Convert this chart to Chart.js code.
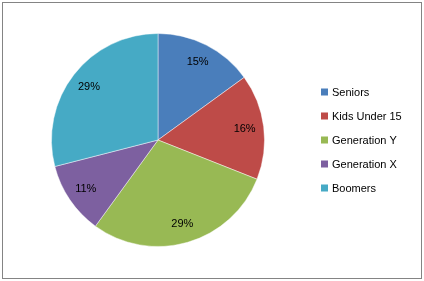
<!DOCTYPE html>
<html><head><meta charset="utf-8">
<script src="https://cdn.jsdelivr.net/npm/chart.js@4.4.0/dist/chart.umd.min.js"></script>
<style>html,body{margin:0;padding:0;background:#fff}#wrap{width:424px;height:281px}</style>
</head><body><div id="wrap"><canvas id="c" width="424" height="281"></canvas></div>
<script>
const categories = ["Seniors", "Kids Under 15", "Generation Y", "Generation X", "Boomers"];
const values = [15, 16, 29, 11, 29];
const colors = ["#4A7EBB", "#BE4B48", "#98B954", "#7D60A0", "#46AAC5"];

const FONT = "'Liberation Sans', Arial, sans-serif";

const framePlugin = {
  id: 'frame',
  beforeDraw(chart) {
    const ctx = chart.ctx;
    ctx.save();
    ctx.fillStyle = '#fff';
    ctx.fillRect(0, 0, chart.width, chart.height);
    ctx.strokeStyle = '#848484';
    ctx.lineWidth = 1;
    ctx.strokeRect(2.5, 2.5, 419, 276);
    ctx.restore();
  }
};

const labelPlugin = {
  id: 'labels',
  afterDatasetsDraw(chart) {
    const ctx = chart.ctx;
    const meta = chart.getDatasetMeta(0);
    const total = values.reduce((a, b) => a + b, 0);
    ctx.save();
    ctx.fillStyle = '#000';
    ctx.font = '11px ' + FONT;
    ctx.textAlign = 'center';
    ctx.textBaseline = 'middle';
    meta.data.forEach((arc, i) => {
      const mid = (arc.startAngle + arc.endAngle) / 2;
      const r = arc.outerRadius * 0.82;
      const x = arc.x + Math.cos(mid) * r;
      const y = arc.y + Math.sin(mid) * r;
      ctx.fillText(Math.round(values[i] / total * 100) + '%', x, y);
    });
    // legend
    const lx = 321, ly0 = 92, step = 24;
    categories.forEach((name, i) => {
      const y = ly0 + i * step;
      ctx.fillStyle = colors[i];
      ctx.fillRect(lx, y - 3.5, 7, 7);
      ctx.fillStyle = '#000';
      ctx.textAlign = 'left';
      ctx.fillText(name, lx + 11, y + 0.5);
    });
    ctx.restore();
  }
};

new Chart(document.getElementById('c'), {
  type: 'pie',
  data: {
    labels: categories,
    datasets: [{
      data: values,
      backgroundColor: colors,
      borderColor: 'rgba(255,255,255,0.45)',
      borderWidth: 1
    }]
  },
  options: {
    responsive: false,
    animation: false,
    layout: { padding: { left: 51, top: 33, right: 159, bottom: 34 } },
    plugins: { legend: { display: false }, tooltip: { enabled: false } }
  },
  plugins: [framePlugin, labelPlugin]
});
</script></body></html>
